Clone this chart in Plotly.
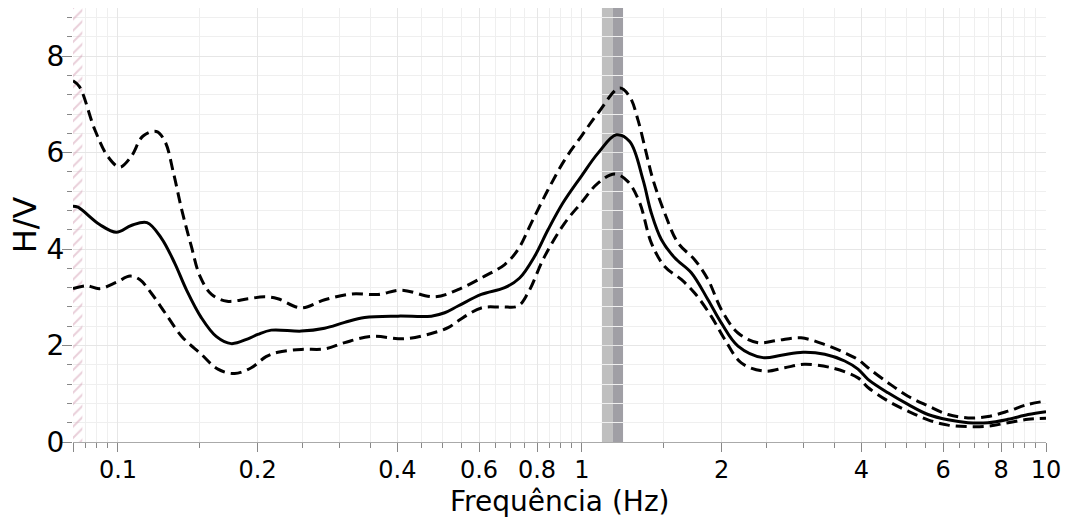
import plotly.graph_objects as go
import math

# ---------------- data ----------------
mean_f = [0.0800, 0.0820, 0.0913, 0.0992, 0.1068, 0.1155, 0.1240, 0.1325, 0.1404, 0.1512,
          0.1628, 0.1754, 0.1906, 0.2002, 0.2140, 0.2483, 0.2789, 0.3080, 0.3401, 0.4013,
          0.4734, 0.5059, 0.5405, 0.6067, 0.6815, 0.7339, 0.7906, 0.8449, 0.9101, 0.9965,
          1.0827, 1.1855, 1.2672, 1.3535, 1.4105, 1.4825, 1.5841, 1.7202, 1.8689, 1.9963,
          2.1689, 2.4548, 2.6888, 2.9948, 3.3357, 3.6830, 3.9338, 4.1340, 4.5655, 5.0420,
          5.5684, 6.1496, 6.7915, 7.5004, 8.2834, 9.1481, 10.0]
mean_v = [4.89, 4.87, 4.51, 4.35, 4.49, 4.55, 4.23, 3.71, 3.16, 2.58,
          2.19, 2.04, 2.14, 2.23, 2.32, 2.30, 2.36, 2.48, 2.58, 2.61,
          2.61, 2.68, 2.82, 3.06, 3.20, 3.40, 3.85, 4.40, 4.96, 5.51,
          5.99, 6.37, 6.23, 5.44, 4.75, 4.20, 3.82, 3.51, 2.95, 2.47,
          1.99, 1.75, 1.80, 1.86, 1.82, 1.68, 1.51, 1.30, 1.02, 0.78,
          0.57, 0.46, 0.40, 0.40, 0.47, 0.57, 0.63]

upper_f = [0.0800, 0.0826, 0.0892, 0.0951, 0.1009, 0.1068, 0.1131, 0.1210, 0.1263, 0.1317,
           0.1372, 0.1439, 0.1502, 0.1591, 0.1718, 0.1906, 0.2070, 0.2211, 0.2483, 0.2789,
           0.3184, 0.3635, 0.4080, 0.4814, 0.5405, 0.6170, 0.6815, 0.7280, 0.7775, 0.8449,
           0.9177, 0.9965, 1.0827, 1.2054, 1.2672, 1.3201, 1.3758, 1.4225, 1.5072, 1.6101,
           1.7488, 1.8689, 1.9963, 2.1689, 2.3950, 2.6440, 2.9650, 3.3357, 3.6830, 3.9338,
           4.1340, 4.5655, 5.0420, 5.5684, 6.1496, 6.7915, 7.5004, 8.2834, 9.1481, 10.0]
upper_v = [7.49, 7.37, 6.47, 5.92, 5.70, 5.92, 6.34, 6.44, 6.23, 5.58,
           4.82, 4.06, 3.44, 3.06, 2.92, 2.97, 3.01, 2.97, 2.78, 2.95,
           3.07, 3.06, 3.15, 3.01, 3.16, 3.44, 3.68, 3.99, 4.54, 5.23,
           5.85, 6.34, 6.82, 7.34, 7.16, 6.68, 5.99, 5.44, 4.75, 4.13,
           3.78, 3.37, 2.75, 2.26, 2.06, 2.11, 2.16, 2.02, 1.85, 1.71,
           1.54, 1.23, 0.95, 0.75, 0.57, 0.50, 0.53, 0.64, 0.78, 0.85]

lower_f = [0.0800, 0.0855, 0.0913, 0.0992, 0.1062, 0.1114, 0.1179, 0.1263, 0.1372, 0.1512,
           0.1642, 0.1784, 0.1938, 0.2085, 0.2211, 0.2483, 0.2789, 0.3080, 0.3519, 0.4146,
           0.4734, 0.5145, 0.5405, 0.6067, 0.6704, 0.7280, 0.7648, 0.8309, 0.9177, 0.9965,
           1.0827, 1.1762, 1.2563, 1.3317, 1.4105, 1.5072, 1.6366, 1.7488, 1.8983, 2.0299,
           2.2048, 2.4747, 2.7347, 3.0158, 3.4460, 3.9338, 4.1340, 4.5655, 5.0420, 5.5684,
           6.1496, 6.7915, 7.5004, 8.2834, 9.1481, 10.0]
lower_v = [3.18, 3.24, 3.18, 3.31, 3.44, 3.37, 3.09, 2.68, 2.19, 1.82,
           1.51, 1.42, 1.54, 1.77, 1.86, 1.92, 1.93, 2.06, 2.19, 2.14,
           2.25, 2.37, 2.51, 2.78, 2.80, 2.82, 3.09, 3.85, 4.54, 4.96,
           5.37, 5.56, 5.40, 4.96, 4.13, 3.64, 3.37, 3.09, 2.61, 2.13,
           1.64, 1.47, 1.54, 1.61, 1.54, 1.33, 1.13, 0.85, 0.64, 0.46,
           0.35, 0.32, 0.33, 0.40, 0.47, 0.49]

band_light = [1.104, 1.166]
band_dark = [1.166, 1.226]
hatch_f = [0.08, 0.0838]

x_range = [0.08, 10.0]
y_range = [0, 9]

x_tickvals = [0.08, 0.1, 0.2, 0.4, 0.6, 0.8, 1, 2, 4, 6, 8, 10]
x_ticktext = ["", "0.1", "0.2", "0.4", "0.6", "0.8", "1", "2", "4", "6", "8", "10"]
x_minor = [0.085, 0.09, 0.095, 0.15, 0.25, 0.3, 0.35, 0.45, 0.5, 0.55, 0.65, 0.7, 0.75,
           0.85, 0.9, 0.95, 1.5, 2.5, 3, 3.5, 4.5, 5, 5.5, 6.5, 7, 7.5, 8.5, 9, 9.5]
y_tickvals = [0, 2, 4, 6, 8]
y_minor_step = 0.4

x_title = "Frequência (Hz)"
y_title = "H/V"

# ---------------- figure ----------------
fig = go.Figure()

# hatched strip at left
fig.add_trace(go.Scatter(
    x=[hatch_f[0], hatch_f[1], hatch_f[1], hatch_f[0], hatch_f[0]],
    y=[y_range[0], y_range[0], y_range[1], y_range[1], y_range[0]],
    mode="lines", fill="toself", line=dict(width=0, color="rgba(0,0,0,0)"),
    fillcolor="rgba(0,0,0,0)",
    fillpattern=dict(shape="/", fgcolor="#d39fb4", bgcolor="rgba(255,255,255,0)",
                     size=8, solidity=0.25),
    hoverinfo="skip", showlegend=False))

dash_style = "11px,6px"
fig.add_trace(go.Scatter(x=upper_f, y=upper_v, mode="lines", line_shape="spline",
                         line=dict(color="black", width=3, dash=dash_style), showlegend=False))
fig.add_trace(go.Scatter(x=lower_f, y=lower_v, mode="lines", line_shape="spline",
                         line=dict(color="black", width=3, dash=dash_style), showlegend=False))
fig.add_trace(go.Scatter(x=mean_f, y=mean_v, mode="lines", line_shape="spline",
                         line=dict(color="black", width=3), showlegend=False))

fig.add_shape(type="rect", xref="x", yref="y", x0=band_light[0], x1=band_light[1],
              y0=y_range[0], y1=y_range[1], fillcolor="#bfbfbf", line_width=0, layer="below")
fig.add_shape(type="rect", xref="x", yref="y", x0=band_dark[0], x1=band_dark[1],
              y0=y_range[0], y1=y_range[1], fillcolor="#a09fa5", line_width=0, layer="below")

# x-axis title as annotation for exact placement
fig.add_annotation(text=x_title, xref="paper", yref="paper", x=0.5, y=0,
                   xanchor="center", yanchor="bottom", yshift=-78, showarrow=False,
                   font=dict(size=28, color="black"))

font_family = "DejaVu Sans"
fig.update_layout(
    width=1069, height=521,
    margin=dict(l=73, r=23, t=8, b=79, autoexpand=False),
    paper_bgcolor="white", plot_bgcolor="white",
    font=dict(family=font_family, size=27, color="black"),
    xaxis=dict(
        type="log", range=[math.log10(x_range[0]), math.log10(x_range[1])],
        automargin=False,
        tickmode="array", tickvals=x_tickvals, ticktext=x_ticktext,
        ticks="outside", ticklen=9, tickwidth=1, tickcolor="#888888",
        ticklabelstandoff=-3,
        showline=True, linecolor="#aaaaaa", linewidth=1,
        showgrid=True, gridcolor="#e6e6e6", gridwidth=1, zeroline=False,
        tickfont=dict(size=24),
        minor=dict(tickmode="array", tickvals=x_minor, ticks="outside", ticklen=5,
                   tickcolor="#888888", showgrid=True, gridcolor="#efefef", gridwidth=1),
    ),
    yaxis=dict(
        range=y_range, automargin=False,
        tickmode="array", tickvals=y_tickvals,
        ticks="outside", ticklen=10, tickwidth=1, tickcolor="#888888",
        ticklabelstandoff=-8,
        showline=False, showgrid=True, gridcolor="#e6e6e6", zeroline=False,
        tickfont=dict(size=28),
        title=dict(text=y_title, font=dict(size=32), standoff=0),
        minor=dict(dtick=y_minor_step, tick0=0, ticks="outside", ticklen=5,
                   tickcolor="#888888", showgrid=True, gridcolor="#efefef", gridwidth=1),
    ),
)

fig.write_html("out.html")
